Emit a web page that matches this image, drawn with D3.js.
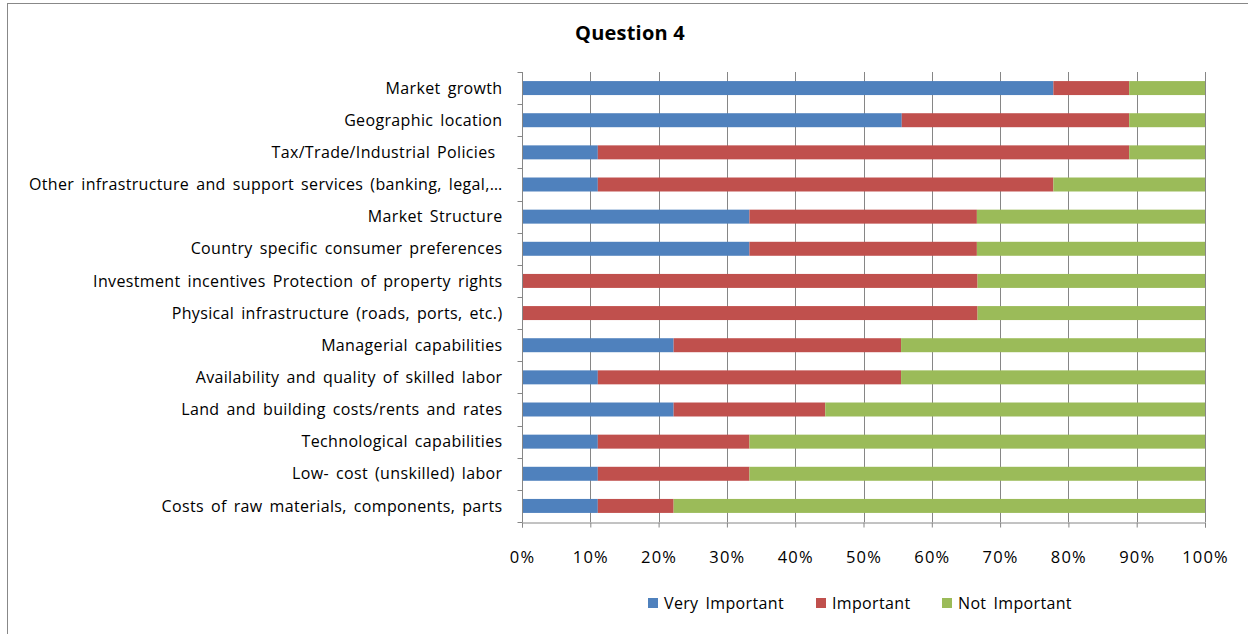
<!DOCTYPE html>
<html>
<head>
<meta charset="utf-8">
<script src="https://cdn.jsdelivr.net/npm/d3@7"></script>
<style>
  html, body { margin: 0; padding: 0; background: #fff; }
  svg { display: block; }
  text { font-family: "Open Sans", Lato, sans-serif; fill: #000; }
</style>
</head>
<body>
<svg id="chart" width="1248" height="634"></svg>
<script>
// Survey factors, top to bottom
const categories = [
  "Market growth",
  "Geographic location",
  "Tax/Trade/Industrial Policies ",
  "Other infrastructure and support services (banking, legal,…",
  "Market Structure",
  "Country specific consumer preferences",
  "Investment incentives Protection of property rights",
  "Physical infrastructure (roads, ports, etc.)",
  "Managerial capabilities",
  "Availability and quality of skilled labor",
  "Land and building costs/rents and rates",
  "Technological capabilities",
  "Low- cost (unskilled) labor",
  "Costs of raw materials, components, parts"
];

// Share of respondents (%) per answer
const veryImportant = [77.8, 55.6, 11.1, 11.1, 33.3, 33.3, 0, 0, 22.2, 11.1, 22.2, 11.1, 11.1, 11.1];
const important     = [11.1, 33.3, 77.8, 66.7, 33.3, 33.3, 66.7, 66.7, 33.3, 44.4, 22.2, 22.2, 22.2, 11.1];
const notImportant  = [11.1, 11.1, 11.1, 22.2, 33.4, 33.4, 33.3, 33.3, 44.5, 44.5, 55.6, 66.7, 66.7, 77.8];

const seriesNames = ["Very Important", "Important", "Not Important"];
const seriesColors = ["#4F81BD", "#C0504D", "#9BBB59"];
const tickValues = [0, 10, 20, 30, 40, 50, 60, 70, 80, 90, 100];

const svg = d3.select("#chart");

// outer chart frame
svg.append("rect")
  .attr("x", 7.5).attr("y", 3.5)
  .attr("width", 1260).attr("height", 660)
  .attr("fill", "none").attr("stroke", "#888").attr("stroke-width", 1);

const plot = { left: 522, right: 1205, top: 72, bottom: 522 };

const x = d3.scaleLinear().domain([0, 100]).range([plot.left, plot.right]);
const y = d3.scaleBand().domain(categories).range([plot.top, plot.bottom]).paddingInner(0.565).paddingOuter(0.2825);

// title
svg.append("text")
  .attr("x", 630).attr("y", 40)
  .attr("text-anchor", "middle")
  .style("font-size", "20px").style("font-weight", "bold")
  .style("letter-spacing", "0.2px")
  .text("Question 4");

// vertical gridlines
svg.append("g").selectAll("line")
  .data(tickValues)
  .join("line")
  .attr("x1", d => Math.round(x(d)) + 0.5).attr("x2", d => Math.round(x(d)) + 0.5)
  .attr("y1", plot.top).attr("y2", plot.bottom)
  .attr("stroke", "#868686").attr("stroke-width", 1);

// stacked data
const table = categories.map((c, i) => ({
  cat: c,
  "Very Important": veryImportant[i],
  "Important": important[i],
  "Not Important": notImportant[i]
}));
const stacked = d3.stack().keys(seriesNames)(table);

svg.append("g").selectAll("g")
  .data(stacked)
  .join("g")
  .attr("fill", (d, i) => seriesColors[i])
  .selectAll("rect")
  .data(d => d.map(p => ({ p, cat: p.data.cat })))
  .join("rect")
  .attr("x", d => x(d.p[0]))
  .attr("width", d => Math.max(0, x(d.p[1]) - x(d.p[0])))
  .attr("y", d => y(d.cat))
  .attr("height", y.bandwidth());

const labelStyle = sel => sel
  .style("font-family", "'Open Sans', Lato, sans-serif")
  .style("font-size", "16px")
  .style("word-spacing", "2.5px")
  .style("letter-spacing", "0.35px");

// x axis
const xAxis = d3.axisBottom(x).tickValues(tickValues).tickFormat(d => d + "%").tickSize(5).tickPadding(24);
const gx = svg.append("g").attr("transform", `translate(0,${plot.bottom + 0.5})`).call(xAxis);
gx.select(".domain").attr("stroke", "#868686");
gx.selectAll(".tick line").attr("stroke", "#868686");
gx.selectAll("text").call(labelStyle).style("font-size", "16.5px").style("letter-spacing", "1.2px").attr("fill", "#000");

// y axis with category-boundary ticks
const gy = svg.append("g").attr("transform", `translate(${plot.left + 0.5},0)`);
gy.append("line").attr("y1", plot.top).attr("y2", plot.bottom).attr("stroke", "#868686");
const bounds = d3.range(categories.length + 1).map(i => plot.top + i * (plot.bottom - plot.top) / categories.length);
gy.selectAll("line.tk").data(bounds).join("line")
  .attr("class", "tk")
  .attr("x1", -5).attr("x2", 0)
  .attr("y1", d => Math.round(d) + 0.5).attr("y2", d => Math.round(d) + 0.5)
  .attr("stroke", "#868686");
gy.selectAll("text").data(categories).join("text")
  .attr("x", -20)
  .attr("y", d => y(d) + y.bandwidth() / 2)
  .attr("dy", "0.35em")
  .attr("text-anchor", "end")
  .call(labelStyle)
  .style("white-space", "pre")
  .text(d => d);

// legend
const legendX = [648, 816, 942];
const lg = svg.append("g").selectAll("g").data(seriesNames).join("g")
  .attr("transform", (d, i) => `translate(${legendX[i]},598)`);
lg.append("rect").attr("width", 10).attr("height", 10).attr("fill", (d, i) => seriesColors[i]);
lg.append("text").attr("x", 16).attr("y", 5).attr("dy", "0.35em").call(labelStyle).text(d => d);
</script>
</body>
</html>
